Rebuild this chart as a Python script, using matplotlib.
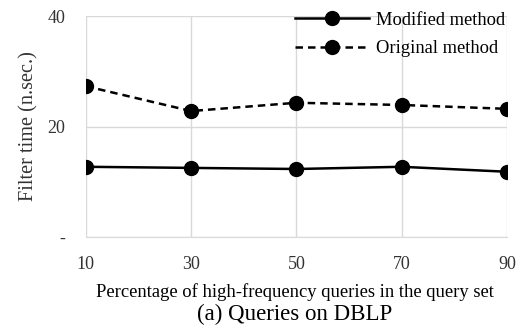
import matplotlib.pyplot as plt

# values
pct = [10, 30, 50, 70, 90]
modified = [12.7, 12.5, 12.3, 12.7, 11.8]
original = [27.3, 22.8, 24.3, 23.9, 23.2]
y_ticks = [0, 20, 40]
y_tick_labels = ["-", "20", "40"]

plt.rcParams["font.family"] = ["Liberation Serif", "DejaVu Serif"]

fig = plt.figure(figsize=(5.27, 3.29), dpi=100)
ax = fig.add_axes([0.163, 0.280, 0.799, 0.671])

ax.plot(pct, modified, color="black", linestyle="-", linewidth=1.8,
        marker="o", markersize=10, label="Modified method", zorder=3)
ax.plot(pct, original, color="black", linestyle=(0, (3, 2)), linewidth=1.8,
        marker="o", markersize=10, label="Original method", zorder=3)

ax.set_xlim(10, 90)
ax.set_ylim(0, 40)
ax.set_xticks(pct)
ax.set_yticks(y_ticks)
ax.set_yticklabels(y_tick_labels)
ax.tick_params(length=0, labelsize=13, colors="#333333")
ax.tick_params(axis="y", pad=15)
ax.tick_params(axis="x", pad=14)

ax.grid(True, color="#d9d9d9", linewidth=1)
ax.set_axisbelow(True)
for side in ["top", "right", "left"]:
    ax.spines[side].set_visible(False)
ax.spines["bottom"].set_color("#d9d9d9")

ax.set_ylabel("Filter time (n.sec.)", fontsize=14.6, color="#333333")
ax.yaxis.set_label_coords(-0.113, 0.5)
fig.text(0.56, 0.1125, "Percentage of high-frequency queries in the query set",
         ha="center", va="center", fontsize=13.4)
fig.text(0.56, 0.043, "(a) Queries on DBLP", ha="center", va="center", fontsize=16.5)

leg = ax.legend(loc="upper right", bbox_to_anchor=(1.035, 1.095), frameon=False,
                fontsize=13.3, handlelength=4.0, handletextpad=0.4, labelspacing=0.62)

fig.savefig("out.png", dpi=100)
